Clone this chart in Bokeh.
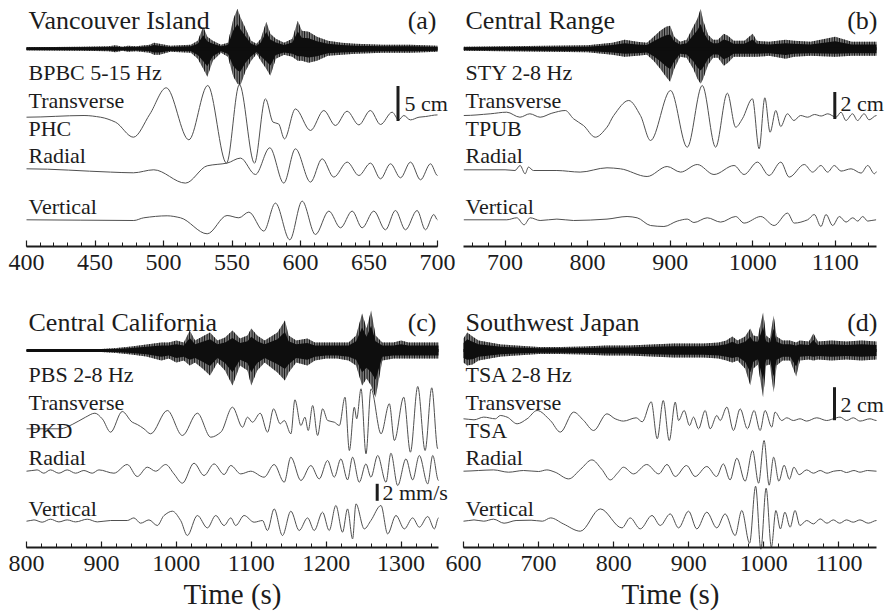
import numpy as np
from bokeh.plotting import figure
from bokeh.models import Range1d, LinearAxis, SingleIntervalTicker, Grid
from bokeh.core.properties import value
from bokeh.embed import file_html
from bokeh.resources import INLINE

# ---------------- data (time in s, amplitudes in trace units) ----------------
# Panel (a) Vancouver Island
TA_T = [400, 440, 460, 465, 470, 474, 480, 490, 493, 497, 505, 520, 525, 529, 532, 536, 542, 547, 551, 554,
        556, 560, 564, 568, 571, 575, 578, 582, 588, 594, 598, 601, 606, 612, 620, 630, 640, 660, 680, 700]
TA_UP = [1.5, 2, 2.5, 3.5, 2, 3, 2.5, 4, 6, 5, 3, 4, 8, 22, 12, 8, 4, 6, 30, 40,
         32, 20, 8, 5, 10, 27, 15, 10, 6, 10, 28, 18, 17, 12, 8, 6, 5, 4, 4, 3]
TA_DN = [1.5, 2, 2.5, 3.5, 2, 3, 2.5, 4, 6, 6, 3, 4, 10, 20, 28, 12, 4, 8, 28, 35,
         37, 22, 12, 5, 12, 20, 27, 10, 6, 8, 12, 12, 14, 12, 7, 6, 5, 4, 4, 3]
TRA_T = [400, 442, 454, 465, 478, 490, 502, 518.5, 532.3, 546, 555.4, 566.4, 574.4, 580, 584, 588.3, 596.3, 607.3,
         617, 625.5, 634, 642.6, 651, 658.4, 666.9, 671.7, 675.4, 680.2, 686.5, 691.4, 700]
TRA_A = [0, 1.7, 0, -5, -20, 3, 29.4, -22.6, 31.7, -46, 32.7, -46, 18.4, -5, -6.7, -21.7, 8.3, -13.3,
         6.7, -8.3, 6, -7.7, 6.7, -7.3, 5, -2.7, 1.7, -2.7, 0, 0.7, 2.3]
RDA_T = [400, 461.3, 478, 492.9, 516, 531.9, 546.4, 556.2, 567.1, 577.6, 587.8, 596.3, 607.3, 615.8, 624.3,
         634.1, 642.6, 651.1, 658.4, 665.7, 673, 680.3, 687.6, 694.9, 700]
RDA_A = [0, -3.3, -4, -1, -14.3, 3, 5.7, 10.7, -5.7, 21, -14.3, 20, -13.3, 10, -8.3,
         6.7, -6.7, 5.7, -10, 5, -9, 6.7, -11, 5, -6.7]
VTA_T = [400, 478.3, 485.6, 502.7, 512.4, 531.9, 546.4, 555, 562.3, 573.2, 581.7, 592.2, 601.2, 610.9, 620.7,
         629.2, 637.7, 645, 653.5, 662, 669.3, 676.6, 685.1, 691.2, 697.3, 700]
VTA_A = [0, -0.7, 2, 4, 2, -14, 4.3, 2, 7.7, -11.3, 16.7, -20, 18.7, -14.7, 8.7,
         -8, 8.7, -8, 8.7, -10, 9.3, -10, 9.3, -10, 5.3, 0]

# Panel (b) Central Range
TB_T = [650, 700, 750, 800, 830, 845, 860, 872, 880, 888, 895, 900, 905, 912, 920, 928, 933, 937, 940, 946,
        952, 958, 965, 970, 977, 990, 1000, 1005, 1020, 1040, 1050, 1070, 1100, 1120, 1150]
TB_UP = [2, 2.5, 3, 3.5, 6, 9, 7, 6, 12, 18, 22, 23, 12, 7, 9, 22, 30, 40, 28, 14,
         9, 9, 15, 13, 8, 8, 15, 8, 7, 9, 8, 7, 12, 7, 7]
TB_DN = [2, 2.5, 3, 3.5, 6, 8, 7, 6, 12, 20, 28, 33, 20, 8, 9, 20, 30, 35, 30, 16,
         9, 9, 17, 14, 8, 8, 8, 8, 7, 10, 8, 7, 8, 7, 7]
TRB_T = [650, 682, 702, 718, 730, 742.5, 756.7, 773, 783, 795, 809.3, 823.5, 831.6, 849.8, 864, 876.2, 900.5,
         920.7, 938.9, 955.1, 969.3, 979.4, 987.5, 999.7, 1007.8, 1014.7, 1021.1, 1028, 1034, 1042, 1050, 1058,
         1066.5, 1075, 1083, 1091, 1101, 1107, 1113, 1121, 1127, 1135, 1141, 1150]
TRB_A = [0, 1.7, 3.3, -1.7, 1.7, -1.7, 2.3, 5, -3.3, -10, -21.7, -11.7, 0, 15, 0, -25, 25,
         -31.7, 30, -31.7, 22.3, -11.7, -3.3, 16.7, -33.3, 17.7, -16.7, 5, -11, 1.7, -5, 0,
         -1.7, 1, -0.5, 1.7, -1.7, 3.3, -5, 1.7, -5, 1.7, -4.3, 0]
RDB_T = [650, 700, 712, 718.2, 724.3, 728.3, 734.4, 762.8, 791, 823.5, 839.7, 872.1, 896.4, 912.6, 932.9,
         953.1, 977.4, 989.6, 1005.8, 1019.9, 1034.1, 1044.2, 1062.5, 1072.6, 1082.7, 1090.8, 1098.9, 1107,
         1119.2, 1131.3, 1139.4, 1147.5, 1150]
RDB_A = [0, 0, -0.7, 4.3, -4, 2.7, -0.7, -0.7, -2.3, 2, 1, -6.7, 3.3, -2.3, 5.3,
         -4.7, 4.3, -4.7, 7.7, -5.7, 7.7, -7.3, 5.3, -2.3, 4.3, -2.3, 4.3, -1.3,
         1, -3.3, 4.3, -4, -2]
VTB_T = [650, 702, 714.2, 723.1, 730.4, 742.5, 762.8, 783, 823.5, 847.8, 860, 876.2, 892.4, 908.6, 920.7,
         928.8, 945, 961.2, 979.4, 989.6, 1009.8, 1026, 1042.2, 1050.3, 1066.5, 1074.6, 1082.7, 1088.8,
         1096.9, 1105, 1113.1, 1121.2, 1127.3, 1133.3, 1139.4, 1149.5]
VTB_A = [0, 0, 2, -5, 2, -0.7, 0.7, -0.7, 0.7, 3.3, 2, -5.7, -6.7, -1.3, 0.7,
         -2.7, 2, -2.3, 3.3, -3.3, 3.3, -5.7, 6.7, -3.3, 0, 5.3, -6.7, 5.3,
         -5.7, 3.3, -2.3, 2, -1.3, 3.3, -1.3, 0]

# Panel (c) Central California
TC_T = [800, 900, 920, 940, 960, 980, 990, 1000, 1010, 1018, 1025, 1035, 1045, 1055, 1065, 1075, 1085, 1095,
        1100, 1108, 1118, 1135, 1145, 1150, 1160, 1175, 1185, 1200, 1215, 1230, 1240, 1248, 1254, 1260, 1266,
        1275, 1290, 1300, 1310, 1350]
TC_UP = [1, 1.5, 2.5, 4, 6, 8, 8, 10, 8, 20, 10, 14, 18, 10, 13, 20, 12, 15,
         22, 15, 10, 18, 30, 15, 10, 12, 8, 8, 8, 8, 15, 37, 22, 40, 15,
         8, 8, 10, 8, 8]
TC_DN = [1, 1.5, 2.5, 4, 6, 10, 8, 12, 10, 15, 12, 18, 25, 12, 20, 35, 15, 20,
         35, 20, 12, 22, 30, 22, 12, 15, 10, 8, 8, 10, 15, 35, 28, 35, 47,
         10, 8, 8, 8, 8]
TRC_T = [800, 845.4, 861, 878.8, 891.3, 901.1, 912.3, 927.8, 941.2, 947.9, 956.8, 965.7, 988, 1008.1, 1028.1,
         1046, 1059.4, 1075, 1088.4, 1095, 1101.7, 1112, 1121.8, 1129.8, 1138.7, 1144.1, 1153, 1158.3, 1166.3,
         1171.7, 1176.1, 1182, 1188.6, 1195.3, 1202, 1210.9, 1217.6, 1225.2, 1231, 1237.6, 1240.8, 1246.6,
         1253.2, 1259.9, 1273.3, 1284.4, 1291.1, 1303.6, 1312.5, 1322.3, 1332.1, 1341, 1349]
TRC_A = [-8.3, -8.3, -4, 3.3, 7.3, 1.7, -11.7, 9, -1.7, -4, -8.3, -13.3, 10, -15, 7.3,
         -16.7, -11.7, 13.3, -6.7, 3.3, -1.7, 7.3, -11.7, 11.7, -3.3, 0, -13.3, 20.7, -5,
         3.3, -10, 15, -15, 11.7, 0, -1.7, -5, 23.3, -30, 13.3, 1.7, 31.7,
         -33.3, 31.7, -13.3, 16.7, -20, 23.3, -31.7, 34, -30, 32.7, -28.3]
RDC_T = [800, 814.2, 823.1, 832, 843.2, 854.3, 865.5, 876.6, 887.7, 896.7, 916.7, 934.5, 947.9, 961.3, 972.4,
         985.8, 996.9, 1008.1, 1023.6, 1037, 1050.4, 1063.8, 1072.7, 1086, 1099.4, 1117.2, 1130.6, 1144, 1152.9,
         1166.3, 1179.6, 1190.8, 1201.9, 1210.8, 1219.7, 1228.6, 1235.3, 1244.2, 1253.1, 1259.8, 1268.8, 1279.9,
         1286.5, 1295.5, 1306.6, 1315.5, 1324.4, 1335.6, 1342.3, 1350]
RDC_A = [1, 2.3, -1, 2.3, -1, 2.3, -1, 1.7, -1, 2.3, -1, 7.7, -4.3, 5, 1,
         7.7, -1.7, -11, 9, -3.3, 8.3, -2.3, 6.7, -1.7, 1, -5, 7.7, -10, 15,
         -8.3, 6.7, -6.7, 11.7, -5, 13.3, -7.7, 15, -10, 8.3, -5, 16.7, -10,
         19, -13.3, 13.3, -7.7, 16.7, -11.7, 16.7, -8.3]
VTC_T = [800, 810, 820.9, 832, 843.2, 854.3, 865.5, 881.1, 894.5, 912.3, 934.5, 943.4, 952.3, 963.5, 974.6,
         983.6, 994.7, 1005.8, 1014.7, 1028.1, 1041.5, 1052.6, 1063.8, 1072.7, 1079.3, 1090.5, 1103.9, 1115,
         1121.7, 1130.6, 1141.7, 1152.9, 1164, 1175.2, 1184.1, 1195.2, 1204.1, 1213, 1221.9, 1228.6, 1235.3,
         1239.8, 1250.9, 1259.8, 1273.2, 1282.1, 1293.2, 1304.4, 1315.5, 1324.4, 1335.6, 1344.5, 1350]
VTC_A = [0, 1.3, -1, 2, -0.7, 1.3, -0.7, 2, -0.7, 0.7, 0.7, 3.3, -2, 1.3, -4.3,
         5.7, 10, 0.7, -14.3, 5.7, -6.7, 5.7, -4.3, 3.3, -4.3, 5.7, -1, 0.7,
         -9.3, 12.3, -14.3, 10, -9.3, 3.3, -9.3, 9, -9.3, 15.7, -11, 12.3, -17.7,
         17.3, -7.7, 0.7, 15.7, -12.7, 5.7, -7.7, 3.3, -6, 4.7, -7.7, 3.3]

# Panel (d) Southwest Japan
TD_T = [600, 605, 612, 620, 635, 650, 670, 700, 730, 760, 790, 820, 850, 880, 900, 920, 940, 950, 958, 965,
        975, 982, 986, 992, 999, 1003, 1008, 1013, 1017, 1025, 1035, 1043, 1048, 1060, 1066, 1072, 1090, 1110,
        1130, 1150]
TD_UP = [12, 18, 14, 10, 8, 6, 5, 3.5, 3.5, 4, 5, 5, 6, 7, 7, 7, 8, 10, 14, 10,
         14, 22, 15, 14, 38, 15, 12, 35, 14, 10, 10, 8, 10, 9, 17, 9, 10, 9, 10, 9]
TD_DN = [12, 15, 14, 10, 8, 6, 5, 3.5, 3.5, 4, 5, 5, 6, 7, 7, 7, 8, 10, 12, 10,
         18, 35, 18, 14, 47, 15, 14, 42, 15, 10, 10, 26, 10, 9, 10, 9, 10, 9, 10, 9]
TRD_T = [600, 614, 627, 642.5, 649, 658, 671.4, 684.7, 698, 715.7, 729, 746.7, 760, 773.3, 791, 802, 813, 830,
         838, 850, 858, 866, 874, 882, 886.4, 893.9, 901, 906.3, 913, 921.8, 928.5, 937.4, 941.8, 950.7, 959.5,
         968.4, 978.1, 987, 995, 1001.6, 1010.5, 1014.9, 1023.8, 1030.5, 1039.3, 1048.2, 1057, 1070.4, 1083.7,
         1092.5, 1101.4, 1110.2, 1119.1, 1128, 1141.3, 1150]
TRD_A = [0, -1, 1.7, 0, 3.3, 1.7, -5, 0, 8.3, -1.7, -13.3, 6.7, -1.7, -11.7, 5, 0, -2.3, 1,
         -3, 17, -20, 18.3, -21.7, 16.7, -1.7, 8.3, -6.7, 1.7, -10, 8.3, -10, 3.3, -1.7, 11.7, -11.7,
         10, -10, 8.3, -11.7, 8.3, -8.3, 6.7, -1.7, 1, -1.7, 0, -2.3, 1, -1.7,
         0, 1.7, -1.7, 1, -2.3, 0, -1.7]
RDD_T = [600, 620, 640, 660, 680, 700, 711, 722, 740, 756, 771, 784, 795.5, 805, 813, 826.5, 844, 860, 871,
         882, 897, 908.5, 924, 937, 946, 955, 964, 975, 985, 993, 1000.3, 1007, 1013, 1020, 1027, 1034, 1040,
         1047, 1057, 1066, 1075, 1084, 1093, 1102, 1110, 1120, 1128, 1138, 1150]
RDD_A = [0, 0.7, 1.3, -1, 0.7, -0.3, 1.3, -1, -7.7, 2, 11.3, 2, -8.7, -2, 4, -2.7, 6.7, -2.7, 6.7,
         -5.3, 5.7, -5.3, 4.7, -5.3, 7.3, -8.7, 13, -10, 20.7, -12, 30.7, -14, 14, -10, 6, -8, 4,
         -3.5, 1.3, -2, 0.7, -2, 0, 0.7, -1.3, 0.7, -1, 0.7, 0]
VTD_T = [600, 614, 627, 640, 654, 670, 690, 705, 716, 733, 755.6, 782.2, 811, 822, 835.4, 851, 862, 875.3,
         886.4, 899.7, 910.7, 924, 937.3, 948.4, 961.7, 970.6, 981, 989, 996, 1003, 1010, 1016, 1022, 1028,
         1035, 1041.5, 1048, 1057, 1066, 1075, 1084, 1092.5, 1101, 1110, 1119, 1128, 1139, 1150]
VTD_A = [0, 1.3, 0, 2, -2, 0.7, 1, 0, 3.3, -2.7, -10, 12.3, -6.7, 3.3, -7.7, 5.7, -4.3, 7.3,
         -6.7, 10, -7.7, 9, -6.7, 7.3, -14.3, 10.7, -22, 35, -28, 33, -26, 10.7, -7.7, 9,
         -6, 10.7, -4.3, 0.7, -2.7, 2.3, -2, 1.3, -2, 1.3, -1, 1.3, -2, 0.7]

TITLES = ["Vancouver Island", "Central Range", "Central California", "Southwest Japan"]
TAGS = ["(a)", "(b)", "(c)", "(d)"]
TREMOR_LABELS = ["BPBC 5-15 Hz", "STY 2-8 Hz", "PBS 2-8 Hz", "TSA 2-8 Hz"]
STATIONS = ["PHC", "TPUB", "PKD", "TSA"]
SCALE_TEXT = ["5 cm", "2 cm", "2 mm/s", "2 cm"]
SCALE_LEN = [35, 27, 17, 33]          # length of scale bar, in trace units
X_LIMITS = [(400, 700), (650, 1150), (800, 1350), (600, 1150)]
MAJOR_STEP = [50, 100, 100, 100]

# ---------------- layout (page pixel coordinates) ----------------
FONT = "Liberation Serif"
INK = "#1c1c1c"
WAVE = "#505050"

panels = [
    dict(name="a", X0=26, X1=437, ytop=0, tremor=(TA_T, TA_UP, TA_DN),
         traces=[(TRA_T, TRA_A, 116.7), (RDA_T, RDA_A, 168.3), (VTA_T, VTA_A, 219.3)],
         tb=48.3, axis_y=245.5, lx=28, rx=436, bar=(397.5, 85.5), bar_txt=(404, 103)),
    dict(name="b", X0=463.3, X1=876, ytop=0, tremor=(TB_T, TB_UP, TB_DN),
         traces=[(TRB_T, TRB_A, 115.0), (RDB_T, RDB_A, 169.3), (VTB_T, VTB_A, 219.3)],
         tb=48.3, axis_y=245.5, lx=465, rx=877, bar=(834.3, 91.5), bar_txt=(840, 103)),
    dict(name="c", X0=26, X1=438, ytop=302, tremor=(TC_T, TC_UP, TC_DN),
         traces=[(TRC_T, TRC_A, 420.0), (RDC_T, RDC_A, 471.7), (VTC_T, VTC_A, 520.7)],
         tb=350.0, axis_y=546.5, lx=28, rx=436, bar=(376.7, 483.3), bar_txt=(382, 492)),
    dict(name="d", X0=463, X1=876, ytop=302, tremor=(TD_T, TD_UP, TD_DN),
         traces=[(TRD_T, TRD_A, 418.3), (RDD_T, RDD_A, 470.7), (VTD_T, VTD_A, 520.7)],
         tb=350.0, axis_y=546.5, lx=465, rx=877, bar=(834, 386.7), bar_txt=(840, 404)),
]

LEFT, RIGHT, TOP, BOTTOM = 0, 887, 0, 612
p = figure(width=RIGHT - LEFT, height=BOTTOM - TOP, output_backend="svg", toolbar_location=None,
           x_range=Range1d(LEFT, RIGHT), y_range=Range1d(BOTTOM, TOP),
           x_axis_location=None, y_axis_location=None,
           min_border_left=0, min_border_right=0, min_border_top=0, min_border_bottom=0)
p.outline_line_color = None
p.background_fill_color = "white"
p.border_fill_color = "white"
# no grid lines
p.center = [r for r in p.center if not isinstance(r, Grid)]
p.renderers = [r for r in p.renderers if not isinstance(r, Grid)]

extra = {}
for i, pn in enumerate(panels):
    t0, t1 = X_LIMITS[i]
    k = (t1 - t0) / (pn["X1"] - pn["X0"])
    extra[pn["name"]] = Range1d(t0 - (pn["X0"] - LEFT) * k, t1 + (RIGHT - pn["X1"]) * k)
p.extra_x_ranges = extra


def smooth_segments(t, y):
    """Cubic Bezier control points (monotone Hermite tangents) through the read points."""
    t = np.asarray(t, dtype=float)
    y = np.asarray(y, dtype=float)
    h = np.diff(t)
    d = np.diff(y) / h
    m = np.zeros_like(y)
    for i in range(1, len(y) - 1):
        if d[i - 1] * d[i] > 0:
            w1 = 2 * h[i] + h[i - 1]
            w2 = h[i] + 2 * h[i - 1]
            m[i] = (w1 + w2) / (w1 / d[i - 1] + w2 / d[i])
    return dict(x0=t[:-1], y0=y[:-1], x1=t[1:], y1=y[1:],
                cx0=t[:-1] + h / 3, cy0=y[:-1] + m[:-1] * h / 3,
                cx1=t[1:] - h / 3, cy1=y[1:] - m[1:] * h / 3)


for i, pn in enumerate(panels):
    nm = pn["name"]
    t0, t1 = X_LIMITS[i]
    # tremor envelope
    tt, up, dn = (np.asarray(a, dtype=float) for a in pn["tremor"])
    n = min(len(tt), len(up), len(dn))
    tt, up, dn = tt[:n], up[:n], dn[:n]
    base = pn["tb"]
    p.varea(x=tt, y1=base - up, y2=base + dn, x_range_name=nm, fill_color="#7a7a7a",
            hatch_pattern="vertical_line", hatch_color="#111111", hatch_scale=2.5, hatch_weight=1.2)
    p.varea(x=tt, y1=base - 0.62 * up, y2=base + 0.62 * dn, x_range_name=nm, fill_color="#0e0e0e")
    p.line(x=[t0, t1], y=[base, base], x_range_name=nm, line_color="#0e0e0e", line_width=3)
    # waveforms (smooth curves through the read extrema)
    for (t, a, b0) in pn["traces"]:
        t = np.asarray(t, dtype=float)
        a = np.asarray(a, dtype=float)
        m = min(len(t), len(a))
        seg = smooth_segments(t[:m], b0 - a[:m])
        p.bezier(x_range_name=nm, line_color=WAVE, line_width=1.0, **seg)
    # axis
    ax = LinearAxis(x_range_name=nm, fixed_location=pn["axis_y"], bounds=(t0, t1),
                    ticker=SingleIntervalTicker(interval=MAJOR_STEP[i], num_minor_ticks=5))
    ax.axis_line_width = 2.2
    ax.axis_line_color = INK
    ax.major_tick_in = 6
    ax.major_tick_out = 0
    ax.minor_tick_in = 4
    ax.minor_tick_out = 0
    ax.major_tick_line_color = INK
    ax.minor_tick_line_color = INK
    ax.major_tick_line_width = 1.2
    ax.minor_tick_line_width = 1.0
    ax.major_label_text_font = FONT
    ax.major_label_text_font_size = "24px"
    ax.major_label_text_color = INK
    ax.major_label_standoff = 9
    p.add_layout(ax, "below")

    # scale bar
    bx, by = pn["bar"]
    p.segment(x0=[bx], y0=[by], x1=[bx], y1=[by + SCALE_LEN[i]], line_color=INK, line_width=3)

    ytop = pn["ytop"]
    lx = pn["lx"]
    # title + tag
    p.text(x=[lx], y=[ytop + 20], text=[TITLES[i]], text_font=value(FONT), text_font_size=value("26px"),
           text_baseline="middle", text_align="left", text_color=INK)
    p.text(x=[pn["rx"]], y=[ytop + 20], text=[TAGS[i]], text_font=value(FONT), text_font_size=value("26px"),
           text_baseline="middle", text_align="right", text_color=INK)
    # channel labels
    labs = [TREMOR_LABELS[i], "Transverse", STATIONS[i], "Radial", "Vertical"]
    ys = [ytop + 72, ytop + 100, ytop + 128, ytop + 155, ytop + 206]
    p.text(x=[lx] * 5, y=ys, text=labs, text_font=value(FONT), text_font_size=value("22px"),
           text_baseline="middle", text_align="left", text_color=INK)
    tx, ty = pn["bar_txt"]
    p.text(x=[tx], y=[ty], text=[SCALE_TEXT[i]], text_font=value(FONT), text_font_size=value("22px"),
           text_baseline="middle", text_align="left", text_color=INK)

# axis titles (bottom row only)
p.text(x=[232, 670], y=[593, 593], text=["Time (s)", "Time (s)"], text_font=value(FONT),
       text_font_size=value("29px"), text_baseline="middle", text_align="center", text_color=INK)

open("out.html", "w").write(file_html(p, INLINE))
